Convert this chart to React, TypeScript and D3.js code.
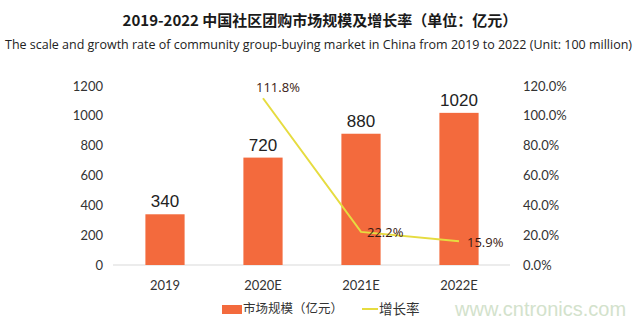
import React from "react";
import * as d3 from "d3";

const categories = ["2019", "2020E", "2021E", "2022E"];
const marketSize = [340, 720, 880, 1020];
const growthCats = ["2020E", "2021E", "2022E"];
const growthRate = [111.8, 22.2, 15.9];
const leftTicks = [0, 200, 400, 600, 800, 1000, 1200];
const rightTicks = [0, 20, 40, 60, 80, 100, 120];
const title = "2019-2022 中国社区团购市场规模及增长率（单位：亿元）";
const subtitle =
  "The scale and growth rate of community group-buying market in China from 2019 to 2022 (Unit: 100 million)";
const legendBar = "市场规模（亿元）";
const legendLine = "增长率";

// label offsets for growth labels (style)
const growthLabelOffsets = [
  { dx: -7, dy: -6 },
  { dx: 6, dy: 5 },
  { dx: 8, dy: 6 },
];

export default function App() {
  const W = 640;
  const H = 324;
  const x = d3.scaleBand<string>().domain(categories).range([116, 508]).paddingInner(0.6).paddingOuter(0.3);
  const yL = d3.scaleLinear().domain([0, 1200]).range([265, 86]);
  const yR = d3.scaleLinear().domain([0, 120]).range([265, 86]);
  const cx = (c: string) => (x(c) as number) + x.bandwidth() / 2;
  const line = d3
    .line<number>()
    .x((_, i) => cx(growthCats[i]))
    .y((d) => yR(d));

  const axisFont = "Lato, 'Open Sans', sans-serif";
  const barColor = "#f36a3d";
  const lineColor = "#e6dc40";

  return (
    <svg
      width={W}
      height={H}
      style={{ position: "absolute", left: 0, top: 0, background: "#fff" }}
    >
      <rect width={W} height={H} fill="#fff" />
      <text
        x={320}
        y={26}
        textAnchor="middle"
        fontFamily="'Noto Sans CJK SC', 'Noto Sans', sans-serif"
        fontWeight="bold"
        fontSize={15}
        fill="#1a1a1a"
      >
        {title}
      </text>
      <text
        x={5}
        y={49}
        fontFamily="'Open Sans', sans-serif"
        fontSize={12}
        fill="#222"
        textLength={627}
        lengthAdjust="spacingAndGlyphs"
      >
        {subtitle}
      </text>

      {/* left axis labels */}
      {leftTicks.map((t) => (
        <text
          key={"l" + t}
          x={103}
          y={yL(t)}
          dy="0.35em"
          textAnchor="end"
          fontFamily={axisFont}
          fontSize={13}
          fill="#333"
        >
          {t}
        </text>
      ))}
      {/* right axis labels */}
      {rightTicks.map((t) => (
        <text
          key={"r" + t}
          x={523}
          y={yR(t)}
          dy="0.35em"
          textAnchor="start"
          fontFamily={axisFont}
          fontSize={13}
          fill="#333"
        >
          {t.toFixed(1) + "%"}
        </text>
      ))}

      {/* baseline */}
      <line x1={113} x2={510} y1={yL(0)} y2={yL(0)} stroke="#d9d9d9" strokeWidth={1} />

      {/* bars */}
      {categories.map((c, i) => (
        <g key={c}>
          <rect
            x={x(c)}
            y={yL(marketSize[i])}
            width={x.bandwidth()}
            height={yL(0) - yL(marketSize[i])}
            fill={barColor}
          />
          <text
            x={cx(c)}
            y={yL(marketSize[i]) - 7}
            textAnchor="middle"
            fontFamily="'Liberation Sans', Arial, sans-serif"
            fontSize={17}
            fill="#222"
          >
            {marketSize[i]}
          </text>
          <text
            x={cx(c)}
            y={290}
            textAnchor="middle"
            fontFamily={axisFont}
            fontSize={13}
            fill="#333"
          >
            {c}
          </text>
        </g>
      ))}

      {/* growth line */}
      <path d={line(growthRate) || ""} fill="none" stroke={lineColor} strokeWidth={2} />
      {growthRate.map((v, i) => (
        <text
          key={"g" + i}
          x={cx(growthCats[i]) + growthLabelOffsets[i].dx}
          y={yR(v) + growthLabelOffsets[i].dy}
          fontFamily="'Open Sans', sans-serif"
          fontSize={13}
          fill="#3a1a12"
        >
          {v.toFixed(1) + "%"}
        </text>
      ))}

      {/* legend */}
      <rect x={222} y={305} width={20} height={9} fill={barColor} />
      <text
        x={243}
        y={309}
        dy="0.35em"
        fontFamily="'Noto Sans CJK SC', sans-serif"
        fontSize={12.5}
        fill="#333"
      >
        {legendBar}
      </text>
      <line x1={362} x2={378} y1={309} y2={309} stroke={lineColor} strokeWidth={2} />
      <text
        x={379}
        y={309}
        dy="0.35em"
        fontFamily="'Noto Sans CJK SC', sans-serif"
        fontSize={13.5}
        fill="#333"
      >
        {legendLine}
      </text>

      {/* watermark */}
      <text
        x={455}
        y={316}
        fontFamily="'Liberation Sans', Arial, sans-serif"
        fontSize={20}
        fill="#d3e2cc"
      >
        www.cntronics.com
      </text>
    </svg>
  );
}
